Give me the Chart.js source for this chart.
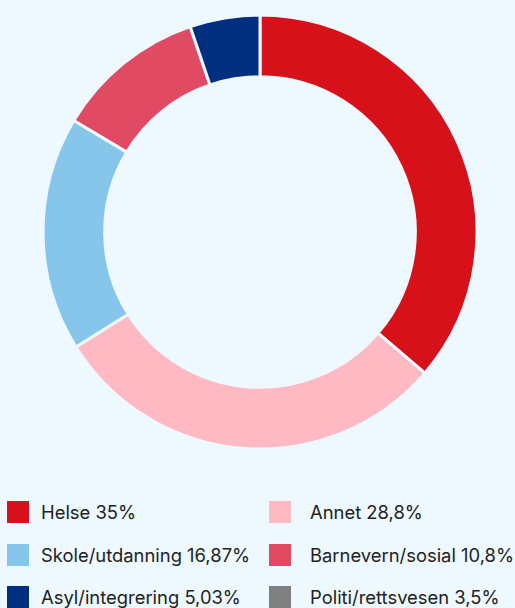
<!DOCTYPE html>
<html>
<head>
<meta charset="utf-8">
<script src="https://cdn.jsdelivr.net/npm/chart.js@4"></script>
<style>
  html, body { margin: 0; padding: 0; background: #eef9ff; width: 515px; height: 608px; overflow: hidden; }
  #wrap { position: absolute; left: 28px; top: 0; width: 464px; height: 464px; }
  #legend { position: absolute; left: 7px; top: 501px; font-family: Inter, sans-serif; font-size: 18.4px; color: #222; }
  .item { position: absolute; height: 22px; line-height: 22px; white-space: nowrap; }
  .box { position: absolute; left: 0; top: 0; width: 22px; height: 22px; }
  .txt { position: absolute; top: 0; }
</style>
</head>
<body>
<div id="wrap"><canvas id="donut"></canvas></div>
<div id="legend"></div>
<script>
const categories = ['Helse', 'Annet', 'Skole/utdanning', 'Barnevern/sosial', 'Asyl/integrering', 'Politi/rettsvesen'];
const values = [35, 28.8, 16.87, 10.8, 5.03, 3.5];
const valueLabels = ['35%', '28,8%', '16,87%', '10,8%', '5,03%', '3,5%'];
const colors = ['#d7111a', '#ffb9c3', '#85c6ea', '#e04a63', '#002f80', '#808080'];
const shownInChart = [true, true, true, true, true, false];

const chart = new Chart(document.getElementById('donut').getContext('2d'), {
  type: 'doughnut',
  data: {
    labels: categories,
    datasets: [{
      data: values,
      backgroundColor: colors,
      borderColor: '#eef9ff',
      borderWidth: 3
    }]
  },
  options: {
    responsive: true,
    maintainAspectRatio: false,
    animation: false,
    radius: 217,
    cutout: 165,
    plugins: { legend: { display: false }, tooltip: { enabled: false } }
  }
});
shownInChart.forEach((shown, i) => { if (!shown) chart.toggleDataVisibility(i); });
chart.update('none');

// legend in two columns, ordered row by row
const legend = document.getElementById('legend');
categories.forEach((cat, i) => {
  const item = document.createElement('div');
  item.className = 'item';
  item.style.left = (i % 2 ? 262 : 0) + 'px';
  item.style.top = Math.floor(i / 2) * 42.5 + 'px';
  item.innerHTML = '<div class="box"></div><span class="txt"></span>';
  item.querySelector('.box').style.background = colors[i];
  const txt = item.querySelector('.txt');
  txt.style.left = (i % 2 ? 41 : 34) + 'px';
  txt.textContent = cat + ' ' + valueLabels[i];
  legend.appendChild(item);
});
</script>
</body>
</html>
